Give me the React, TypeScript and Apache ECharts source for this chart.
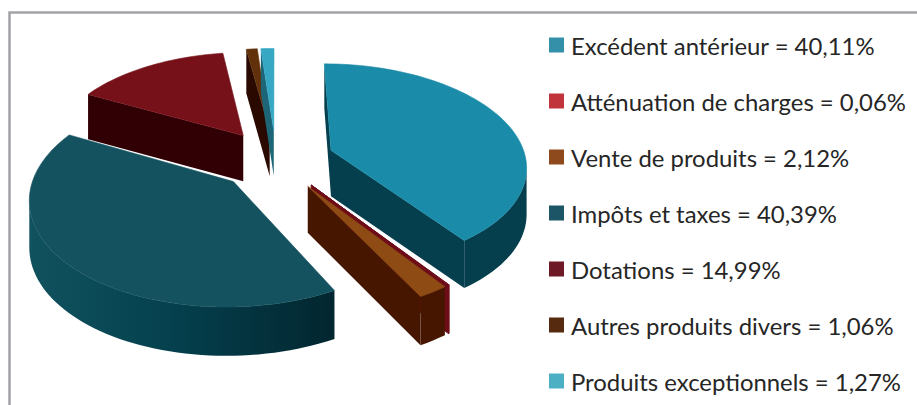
import React, { useEffect, useRef } from "react";
import * as echarts from "echarts";

const labels = [
  "Excédent antérieur = 40,11%",
  "Atténuation de charges = 0,06%",
  "Vente de produits = 2,12%",
  "Impôts et taxes = 40,39%",
  "Dotations = 14,99%",
  "Autres produits divers = 1,06%",
  "Produits exceptionnels = 1,27%",
];
const values = [40.11, 0.06, 2.12, 40.39, 14.99, 1.06, 1.27];
const legendColors = ["#3490a8", "#c2343c", "#8e4a1c", "#1c5565", "#6e1a26", "#552a0e", "#4cafc4"];
const topColors = ["#1a8ba8", "#6e0d18", "#8e4b14", "#14525f", "#761119", "#62300b", "#36a8c4"];
const wallLeft = ["#053f4d", "#6e0d18", "#461600", "#11525f", "#310005", "#2a0a00", "#1d6678"];
const wallRight = ["#053f4d", "#6e0d18", "#461600", "#02262f", "#310005", "#2a0a00", "#1d6678"];

const CX = 276, CY = 159.5, RX = 195, RY = 101, PERSP = 0.14, DEPTH = 46, EXPLODE = 0.3;
const total = values.reduce((a, b) => a + b, 0);

function renderSlice(index: number) {
  return (params: any, api: any) => {
    const before = values.slice(0, index).reduce((a, b) => a + b, 0);
    const a0 = (before / total) * Math.PI * 2;
    const a1 = ((before + api.value(0)) / total) * Math.PI * 2;
    const mid = (a0 + a1) / 2;
    const ox = Math.sin(mid) * EXPLODE, oy = -Math.cos(mid) * EXPLODE;
    const proj = (u: number, v: number, drop: number) => {
      const s = 1 / (1 - PERSP * v);
      return [CX + RX * u * s, CY + RY * v * s + DEPTH * (0.7 + 0.3 * s) * drop];
    };
    const at = (ang: number, r: number, drop: number) =>
      proj(ox + r * Math.sin(ang), oy - r * Math.cos(ang), drop);

    const steps = Math.max(2, Math.ceil(((a1 - a0) * 180) / Math.PI / 2));
    const arc: number[][] = [];
    const arcLow: number[][] = [];
    for (let i = 0; i <= steps; i++) {
      const a = a0 + ((a1 - a0) * i) / steps;
      arc.push(at(a, 1, 0));
      arcLow.push(at(a, 1, 1));
    }
    const apex = at(0, 0, 0);
    const apexLow = at(0, 0, 1);
    const top = [apex, ...arc];
    const children: any[] = [];
    const solid = wallLeft[index];
    const wall = (points: number[][], fill: any) => ({
      type: "polygon",
      shape: { points },
      style: { fill, stroke: index === 1 ? fill : "none", lineWidth: index === 1 ? 1 : 0 },
    });
    if (arc[0][0] < apex[0]) children.push(wall([apex, arc[0], arcLow[0], apexLow], solid));
    const last = arc.length - 1;
    if (apex[0] < arc[last][0]) children.push(wall([arc[last], apex, apexLow, arcLow[last]], solid));
    let first = -1, end = -1;
    for (let i = 0; i < last; i++) {
      if (arc[i + 1][0] < arc[i][0]) {
        if (first < 0) first = i;
        end = i + 1;
      }
    }
    if (first >= 0) {
      const upper = arc.slice(first, end + 1);
      const lower = arcLow.slice(first, end + 1).reverse();
      const grad = new echarts.graphic.LinearGradient(1, 0, 0, 0, [
        { offset: 0, color: wallRight[index] },
        { offset: 0.55, color: index === 3 ? "#05414f" : wallLeft[index] },
        { offset: 1, color: wallLeft[index] },
      ]);
      children.push(wall([...upper, ...lower], grad));
    }
    children.push({
      type: "polygon",
      shape: { points: top },
      style: { fill: topColors[index], stroke: topColors[index], lineWidth: index === 1 ? 1 : 0.6 },
    });
    return { type: "group", children };
  };
}

export default function App() {
  const ref = useRef<HTMLDivElement>(null);
  useEffect(() => {
    const chart = echarts.init(ref.current!, null, { renderer: "svg" });
    chart.setOption({
      animation: false,
      backgroundColor: "#ffffff",
      legend: {
        orient: "vertical",
        left: 549,
        top: 32,
        padding: 0,
        icon: "rect",
        itemWidth: 15,
        itemHeight: 15,
        itemGap: 30,
        data: labels,
        selectedMode: false,
        textStyle: {
          fontFamily: "Lato",
          fontSize: 23.9,
          color: "#262626",
          lineHeight: 26,
          padding: [0, 0, 0, 2],
        },
      },
      graphic: [
        {
          type: "polyline",
          shape: { points: [[9.5, 405], [9.5, 12.5], [917, 12.5]] },
          style: { fill: "none", stroke: "#a2a2a7", lineWidth: 2.5 },
        },
      ],
      series: labels.map((name, i) => ({
        type: "custom",
        name,
        coordinateSystem: "none",
        itemStyle: { color: legendColors[i] },
        data: [[values[i]]],
        renderItem: renderSlice(i),
      })),
    });
    return () => chart.dispose();
  }, []);
  return <div ref={ref} style={{ position: "fixed", left: 0, top: 0, width: 917, height: 405 }} />;
}
